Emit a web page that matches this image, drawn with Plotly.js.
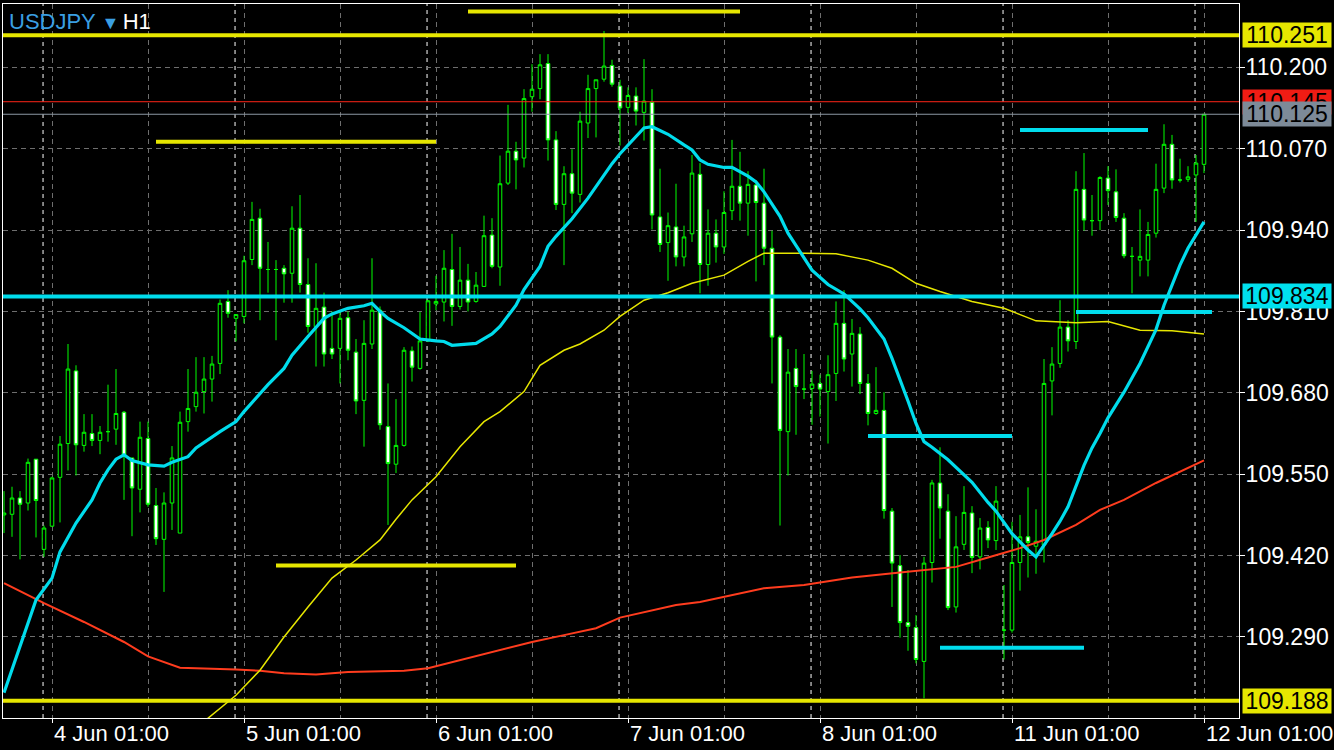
<!DOCTYPE html>
<html>
<head>
<meta charset="utf-8">
<script src="https://cdn.plot.ly/plotly-3.0.1.min.js"></script>
<style>
html,body{margin:0;padding:0;background:#000;}
#chart{width:1334px;height:750px;}
</style>
</head>
<body>
<div id="chart"></div>
<script>
// ---- Candles (USDJPY H1), one value per bar ----
const open = [109.485,109.486,109.512,109.504,109.574,109.430,109.467,109.545,109.599,109.715,
109.596,109.615,109.604,109.618,109.622,109.649,109.576,109.526,109.607,109.500,
109.446,109.504,109.456,109.634,109.658,109.682,109.702,109.727,109.826,109.799,
109.802,109.893,109.959,109.877,109.877,109.879,109.871,109.943,109.853,109.786,
109.817,109.751,109.751,109.800,109.745,109.668,109.758,109.812,109.626,109.566,
109.596,109.747,109.719,109.763,109.822,109.825,109.877,109.818,109.860,109.826,
109.850,109.932,109.881,110.015,110.066,110.055,110.153,110.166,110.206,110.084,
109.981,110.030,109.997,110.111,110.166,110.181,110.203,110.170,110.136,110.154,
110.128,110.144,109.961,109.920,109.945,109.897,109.934,110.029,109.885,109.935,
109.913,109.971,110.010,109.983,110.012,109.983,109.911,109.769,109.618,109.719,
109.686,109.687,109.695,109.682,109.711,109.791,109.742,109.774,109.695,109.647,
109.652,109.491,109.404,109.313,109.305,109.251,109.409,109.536,109.491,109.338,
109.438,109.488,109.418,109.465,109.444,109.301,109.301,109.409,109.450,109.435,
109.437,109.699,109.727,109.785,109.762,110.005,109.955,109.955,110.023,110.001,
109.959,109.898,109.892,109.892,109.935,110.007,110.077,110.020,110.021,110.028,
110.045];
const high = [109.523,109.530,109.523,109.575,109.574,109.468,109.546,109.611,109.758,109.724,
109.646,109.646,109.627,109.693,109.718,109.651,109.576,109.634,109.634,109.528,
109.521,109.595,109.650,109.718,109.737,109.737,109.739,109.829,109.844,109.805,
109.899,109.985,109.974,109.921,109.892,109.884,109.978,109.996,109.895,109.887,
109.840,109.810,109.810,109.810,109.766,109.796,109.895,109.818,109.695,109.670,
109.753,109.754,109.809,109.828,109.867,109.908,109.934,109.913,109.886,109.873,
109.963,109.959,110.059,110.140,110.081,110.165,110.205,110.221,110.221,110.098,
110.042,110.069,110.129,110.188,110.180,110.258,110.212,110.180,110.168,110.168,
110.213,110.165,110.038,109.968,110.014,109.947,110.060,110.047,109.973,109.957,
110.002,110.084,110.065,110.034,110.020,110.038,109.939,109.772,109.750,109.750,
109.742,109.715,109.709,109.740,109.826,109.844,109.798,109.785,109.710,109.721,
109.681,109.496,109.421,109.397,109.325,109.418,109.541,109.593,109.518,109.483,
109.531,109.499,109.480,109.475,109.531,109.373,109.474,109.485,109.529,109.494,
109.734,109.753,109.828,109.796,110.034,110.063,109.996,110.026,110.042,110.037,
109.967,109.913,109.973,109.953,110.046,110.109,110.092,110.054,110.042,110.060,
110.125];
const low = [109.456,109.450,109.414,109.492,109.449,109.418,109.466,109.473,109.556,109.548,
109.586,109.595,109.582,109.602,109.597,109.509,109.451,109.489,109.498,109.437,
109.362,109.461,109.456,109.618,109.650,109.647,109.666,109.710,109.800,109.762,
109.791,109.884,109.796,109.840,109.764,109.824,109.824,109.840,109.776,109.722,
109.722,109.734,109.695,109.732,109.646,109.594,109.750,109.621,109.469,109.552,
109.594,109.698,109.717,109.761,109.812,109.794,109.787,109.813,109.810,109.824,
109.849,109.879,109.851,110.012,110.005,110.040,110.129,110.149,110.051,109.972,
109.884,109.967,109.984,110.087,110.088,110.177,110.169,110.075,110.127,110.107,
110.083,109.941,109.905,109.859,109.882,109.882,109.921,109.839,109.851,109.888,
109.902,109.956,109.955,109.931,109.858,109.884,109.695,109.468,109.548,109.613,
109.670,109.629,109.642,109.599,109.667,109.714,109.690,109.678,109.628,109.645,
109.479,109.338,109.289,109.268,109.248,109.192,109.377,109.447,109.333,109.329,
109.429,109.392,109.398,109.432,109.429,109.254,109.297,109.364,109.385,109.391,
109.409,109.644,109.720,109.746,109.750,109.939,109.931,109.940,109.980,109.953,
109.895,109.839,109.866,109.866,109.928,109.999,110.006,110.016,110.017,109.953,
110.031];
const close = [109.488,109.512,109.502,109.569,109.508,109.464,109.544,109.598,109.718,109.597,
109.617,109.604,109.617,109.618,109.647,109.580,109.528,109.609,109.502,109.447,
109.504,109.576,109.633,109.655,109.681,109.702,109.726,109.823,109.807,109.805,
109.891,109.957,109.879,109.877,109.877,109.870,109.943,109.853,109.786,109.815,
109.742,109.742,109.799,109.748,109.667,109.759,109.812,109.629,109.567,109.596,
109.748,109.721,109.763,109.827,109.826,109.879,109.818,109.860,109.825,109.852,
109.931,109.882,110.014,110.066,110.052,110.150,110.165,110.204,110.084,109.981,
110.030,109.999,110.114,110.166,110.180,110.202,110.173,110.135,110.155,110.130,
110.146,109.964,109.917,109.947,109.897,109.929,110.031,109.885,109.935,109.913,
109.968,110.010,109.983,110.013,109.984,109.911,109.769,109.620,109.713,109.690,
109.686,109.694,109.686,109.709,109.791,109.734,109.775,109.695,109.647,109.652,
109.492,109.408,109.313,109.307,109.254,109.408,109.536,109.496,109.337,109.434,
109.489,109.417,109.464,109.445,109.507,109.301,109.409,109.450,109.441,109.443,
109.695,109.726,109.785,109.763,110.005,109.956,109.955,110.024,110.003,109.960,
109.899,109.898,109.898,109.933,110.005,110.077,110.020,110.020,110.025,110.047,
110.125];

// ---- Moving averages (sampled bar index -> price) ----
const maFastBars = [0,2,4,6,7,9,11,12,13,14,15,16,18,20,21,23,24,27,29,30,33,35,36,38,40,41,43,45,46,47,48,50,52,54,55,56,59,61,62,64,65,67,68,69,71,73,75,76,77,79,80,81,83,85,86,87,88,90,91,93,94,95,97,98,99,101,103,105,107,108,110,111,113,114,115,116,118,119,121,123,124,126,128,129,130,131,132,133,135,136,137,138,140,142,144,145,147,148,150];
const maFastValues = [109.201,109.275,109.349,109.384,109.426,109.472,109.509,109.536,109.557,109.574,109.581,109.572,109.565,109.563,109.569,109.578,109.592,109.618,109.634,109.650,109.693,109.719,109.740,109.770,109.799,109.806,109.815,109.819,109.823,109.810,109.799,109.784,109.766,109.763,109.762,109.756,109.759,109.774,109.786,109.820,109.845,109.882,109.914,109.930,109.958,109.991,110.029,110.046,110.062,110.090,110.103,110.105,110.093,110.076,110.068,110.052,110.045,110.040,110.040,110.026,110.017,110.001,109.962,109.935,109.915,109.876,109.853,109.838,109.814,109.800,109.766,109.735,109.667,109.631,109.602,109.593,109.573,109.561,109.537,109.505,109.491,109.455,109.429,109.418,109.436,109.455,109.475,109.498,109.564,109.592,109.615,109.640,109.681,109.727,109.781,109.820,109.884,109.911,109.953];

const maMidBars = [25,29,32,35,38,41,44,47,49,51,54,57,60,62,65,67,70,72,75,77,80,83,86,90,93,95,100,104,108,111,114,117,121,125,129,134,138,142,146,150];
const maMidValues = [109.155,109.197,109.237,109.290,109.338,109.384,109.413,109.445,109.478,109.509,109.546,109.594,109.634,109.650,109.682,109.724,109.748,109.758,109.780,109.802,109.828,109.840,109.855,109.868,109.890,109.903,109.903,109.902,109.892,109.879,109.855,109.842,109.826,109.815,109.795,109.792,109.794,109.780,109.779,109.774];

const maSlowBars = [0,5,10,15,18,22,29,32,35,39,43,50,53,58,62,66,70,74,77,80,84,87,91,95,100,106,112,119,123,127,130,134,137,140,144,150];
const maSlowValues = [109.376,109.344,109.314,109.282,109.259,109.241,109.238,109.236,109.232,109.230,109.234,109.236,109.240,109.256,109.269,109.282,109.293,109.304,109.321,109.330,109.341,109.346,109.357,109.368,109.373,109.385,109.393,109.402,109.417,109.432,109.445,109.469,109.493,109.509,109.536,109.572];

// ---- Drawn levels ----
const yellowLevels = [110.251, 109.188];
const cyanLevels = [109.834];
const askPrice = 110.145;
const bidPrice = 110.125;
const yellowSegLevel = [110.289, 110.081, 109.404];
const yellowSegFrom = [58, 19, 34];
const yellowSegTo = [92, 54, 64];
const cyanSegLevel = [110.100, 109.611, 109.809, 109.273];
const cyanSegFrom = [127, 108, 134, 117];
const cyanSegTo = [143, 126, 151, 135];

// ---- Axis ticks ----
const priceTicks = [109.290, 109.420, 109.550, 109.680, 109.810, 109.940, 110.070, 110.200];
const dateTickBars = [6, 30, 54, 78, 102, 126, 150];
const dateTickLabels = ['4 Jun 01:00', '5 Jun 01:00', '6 Jun 01:00', '7 Jun 01:00', '8 Jun 01:00', '11 Jun 01:00', '12 Jun 01:00'];
const midDayBars = [18, 42, 66, 90, 114, 138];
const dayStartBars = [5, 29, 53, 77, 101, 125, 149];

// ---- Styles ----
const GREEN = '#00ff00', YELLOW = '#e6e600', CYAN = '#00dcec', ORANGE = '#ff3c1e';
const GRID = '#6e6e6e';
const FONT = 'Liberation Sans, Arial, sans-serif';

const bars = open.map((_, i) => i);

function segs(from, to, lvl) {
  const x = [], y = [];
  for (let i = 0; i < lvl.length; i++) {
    x.push(from[i], to[i], null);
    y.push(lvl[i], lvl[i], null);
  }
  return {x, y};
}
const ys = segs(yellowSegFrom, yellowSegTo, yellowSegLevel);
const cs = segs(cyanSegFrom, cyanSegTo, cyanSegLevel);

const traces = [
  {
    type: 'candlestick', x: bars, open, high, low, close,
    increasing: {line: {color: GREEN, width: 1}, fillcolor: '#000000'},
    decreasing: {line: {color: GREEN, width: 1}, fillcolor: '#ffffff'},
    whiskerwidth: 0, hoverinfo: 'skip', showlegend: false
  },
  {type: 'scatter', mode: 'lines', x: maSlowBars, y: maSlowValues, line: {color: ORANGE, width: 2}, hoverinfo: 'skip'},
  {type: 'scatter', mode: 'lines', x: maMidBars, y: maMidValues, line: {color: YELLOW, width: 1.5}, hoverinfo: 'skip'},
  {type: 'scatter', mode: 'lines', x: maFastBars, y: maFastValues, line: {color: CYAN, width: 3.2}, hoverinfo: 'skip'},
  {type: 'scatter', mode: 'lines', x: ys.x, y: ys.y, line: {color: YELLOW, width: 4}, hoverinfo: 'skip', connectgaps: false},
  {type: 'scatter', mode: 'lines', x: cs.x, y: cs.y, line: {color: CYAN, width: 4}, hoverinfo: 'skip', connectgaps: false}
];

const shapes = [];
dayStartBars.forEach(b => shapes.push({
  type: 'line', xref: 'x', yref: 'paper', x0: b - 0.12, x1: b - 0.12, y0: 0, y1: 1,
  line: {color: '#ffffff', width: 1, dash: '4px,4px'}, layer: 'below'
}));
yellowLevels.forEach(v => shapes.push({
  type: 'line', xref: 'paper', yref: 'y', x0: 0, x1: 1, y0: v, y1: v,
  line: {color: YELLOW, width: 4}, layer: 'above'
}));
cyanLevels.forEach(v => shapes.push({
  type: 'line', xref: 'paper', yref: 'y', x0: 0, x1: 1, y0: v, y1: v,
  line: {color: CYAN, width: 4}, layer: 'above'
}));
shapes.push({type: 'line', xref: 'paper', yref: 'y', x0: 0, x1: 1, y0: askPrice, y1: askPrice, line: {color: '#ff2418', width: 1}, layer: 'above'});
shapes.push({type: 'line', xref: 'paper', yref: 'y', x0: 0, x1: 1, y0: bidPrice, y1: bidPrice, line: {color: '#8c98a4', width: 1}, layer: 'above'});

const annotations = [];
dateTickBars.forEach((b, i) => annotations.push({
  xref: 'x', yref: 'paper', x: b, y: 0, xanchor: 'left', yanchor: 'top', xshift: 0, yshift: -1,
  text: dateTickLabels[i], showarrow: false, font: {family: FONT, size: 22, color: '#ffffff'}
}));
function priceBox(v, bg) {
  return {xref: 'paper', yref: 'y', x: 1, y: v, xanchor: 'left', yanchor: 'middle', xshift: 3,
    width: 88, height: 24, bgcolor: bg, borderpad: 0, showarrow: false, align: 'center',
    text: v.toFixed(3), font: {family: FONT, size: 23, color: '#000000'}};
}
annotations.push(priceBox(yellowLevels[0], YELLOW));
annotations.push(priceBox(askPrice, '#f01c14'));
annotations.push(priceBox(bidPrice, '#7d8a98'));
annotations.push(priceBox(cyanLevels[0], '#00e0ee'));
annotations.push(priceBox(yellowLevels[1], YELLOW));
annotations.push({
  xref: 'paper', yref: 'paper', x: 0, y: 1, xanchor: 'left', yanchor: 'top', xshift: 4, yshift: -3,
  showarrow: false, font: {family: FONT, size: 22, color: '#ffffff'},
  text: '<span style="color:#3a9fe2">USDJPY</span> <span style="color:#3a9fe2;font-size:18px">▼</span><span style="font-size:12px"> </span>H1'
});

const layout = {
  width: 1334, height: 750,
  paper_bgcolor: '#000000', plot_bgcolor: '#000000',
  margin: {l: 3, r: 95, t: 4, b: 32},
  showlegend: false, hovermode: false,
  boxgap: 0.36,
  xaxis: {
    range: [-0.125, 154.375], fixedrange: true, rangeslider: {visible: false},
    tickmode: 'array', tickvals: dateTickBars, showticklabels: false,
    ticks: 'outside', ticklen: 4, tickcolor: '#ffffff', tickwidth: 1,
    showgrid: true, gridcolor: GRID, gridwidth: 1, griddash: '5px,4px',
    minor: {tickmode: 'array', tickvals: midDayBars, showgrid: true, gridcolor: GRID, gridwidth: 1, griddash: '5px,4px', ticks: ''},
    showline: true, mirror: true, linecolor: '#ffffff', linewidth: 1, zeroline: false
  },
  yaxis: {
    side: 'right', range: [109.1606, 110.3011], fixedrange: true,
    tickmode: 'array', tickvals: priceTicks, ticktext: priceTicks.map(v => v.toFixed(3)),
    tickfont: {family: FONT, size: 23, color: '#ffffff'},
    ticks: 'outside', ticklen: 5, tickcolor: '#ffffff', tickwidth: 1,
    ticklabelstandoff: -4,
    showgrid: true, gridcolor: GRID, gridwidth: 1, griddash: '5px,4px',
    showline: true, mirror: true, linecolor: '#ffffff', linewidth: 1, zeroline: false
  },
  shapes, annotations
};

Plotly.newPlot('chart', traces, layout, {staticPlot: true, displayModeBar: false});
</script>
</body>
</html>
